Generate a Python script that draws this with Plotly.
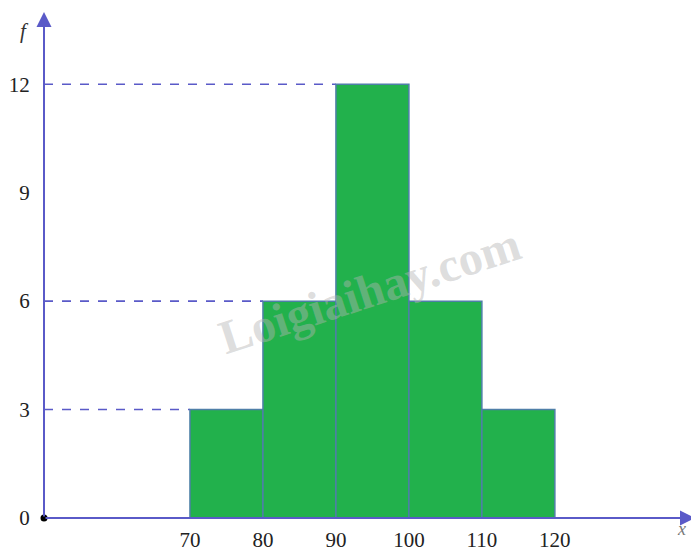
import plotly.graph_objects as go

# Data
bin_edges = [70, 80, 90, 100, 110, 120]
freqs = [3, 6, 12, 6, 3]
y_ticks = [0, 3, 6, 9, 12]
x_ticks = [70, 80, 90, 100, 110, 120]
dashed_levels = [3, 6, 12]
watermark = "Loigiaihay.com"

AXIS = "#5a5ac8"
GREEN = "#22b14c"
FONT = "Liberation Serif"

x0, x1 = 50, 139.2
y0, y1 = 0, 14

centers = [(a + b) / 2 for a, b in zip(bin_edges[:-1], bin_edges[1:])]
widths = [b - a for a, b in zip(bin_edges[:-1], bin_edges[1:])]

fig = go.Figure()
fig.add_trace(go.Bar(
    x=centers, y=freqs, width=widths,
    marker=dict(color=GREEN, line=dict(color="#4f7fa8", width=1.5)),
    hoverinfo="skip",
))

shapes = []
# dashed guide lines from y-axis to the left edge of the first bar at that height
for lvl in dashed_levels:
    idx = freqs.index(lvl)
    shapes.append(dict(type="line", xref="x", yref="y", x0=x0, x1=bin_edges[idx],
                       y0=lvl, y1=lvl, line=dict(color=AXIS, width=1.6, dash="dash"), layer="below"))

annotations = [
    # x axis with arrow
    dict(x=x1, y=0, ax=x0, ay=0, xref="x", yref="y", axref="x", ayref="y",
         showarrow=True, arrowhead=2, arrowsize=1.5, arrowwidth=2, arrowcolor=AXIS, text=""),
    # y axis with arrow
    dict(x=x0, y=y1, ax=x0, ay=0, xref="x", yref="y", axref="x", ayref="y",
         showarrow=True, arrowhead=2, arrowsize=1.5, arrowwidth=2, arrowcolor=AXIS, text=""),
    dict(x=-0.04, y=0.99, xref="paper", yref="paper", text="<i>f</i>", showarrow=False,
         font=dict(family=FONT, size=21, color="#333")),
    dict(x=0.99, y=-0.045, xref="paper", yref="paper", text="<i>x</i>", showarrow=False,
         font=dict(family=FONT, size=18, color="#777")),
    dict(x=0.5, y=0.45, xref="paper", yref="paper", text="<b>" + watermark + "</b>", showarrow=False,
         textangle=-18, font=dict(family=FONT, size=48, color="rgba(180,180,180,0.45)")),
]

fig.add_trace(go.Scatter(x=[x0], y=[0], mode="markers",
                         marker=dict(color="black", size=7), hoverinfo="skip", cliponaxis=False))

# the page body adds an 8px offset, so margins are shifted accordingly
fig.update_layout(
    width=699, height=552,
    margin=dict(l=36, r=12, t=4, b=42, autoexpand=False),
    paper_bgcolor="white", plot_bgcolor="white",
    showlegend=False,
    shapes=shapes, annotations=annotations,
    xaxis=dict(range=[x0, x1], tickvals=x_ticks, ticktext=[str(v) for v in x_ticks],
               showgrid=False, zeroline=False, showline=False, automargin=False,
               ticks="outside", ticklen=3, tickcolor="rgba(0,0,0,0)",
               tickfont=dict(family=FONT, size=21, color="#222")),
    yaxis=dict(range=[y0, y1], tickvals=y_ticks, ticktext=[str(v) for v in y_ticks],
               showgrid=False, zeroline=False, showline=False, automargin=False,
               ticks="outside", ticklen=9, tickcolor="rgba(0,0,0,0)",
               tickfont=dict(family=FONT, size=21, color="#222")),
)

fig.write_html("out.html")
